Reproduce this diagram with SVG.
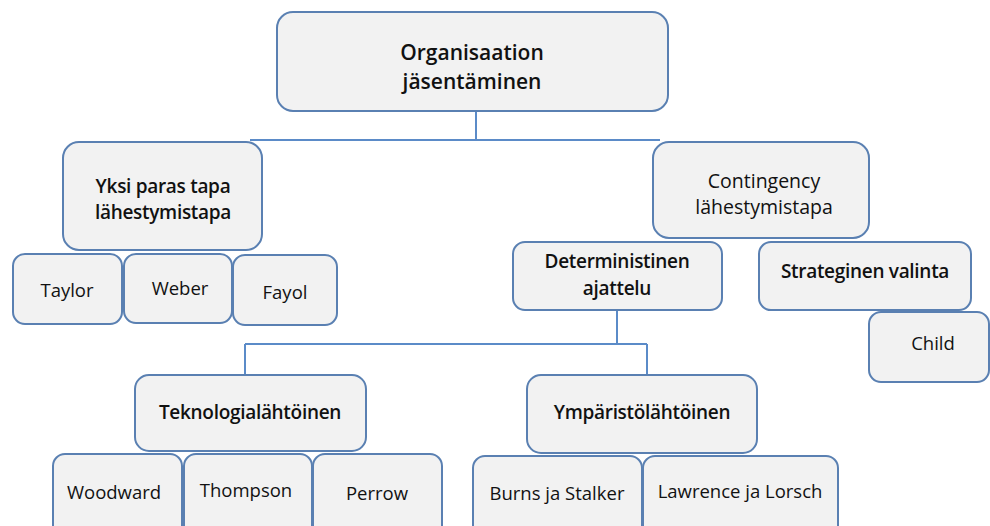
<svg xmlns="http://www.w3.org/2000/svg" width="990" height="526" viewBox="0 0 990 526">
<style>
.n{fill:#f2f2f2;stroke:#5a80b2;stroke-width:2}
.t{font-family:"Open Sans","Noto Sans",sans-serif;fill:#111;text-anchor:middle}
.b{font-weight:600;font-size:19px;letter-spacing:-0.3px}
.r{font-size:18.5px}
.c{fill:none;stroke:#5b8bc8;stroke-width:2}
</style>
<rect width="990" height="526" fill="#fff"/>
<g id="connectors">
<path class="c" d="M476 111V140M250 140H660"/>
<path class="c" d="M617 310V344M245 344H647M245 344V375M647 344V375"/>
</g>
<g id="root"><rect class="n" x="277" y="12" width="391" height="99" rx="16"/><text class="t" x="472" y="60" font-size="21" font-weight="600">Organisaation</text><text class="t" x="472" y="89" font-size="21" font-weight="600">jäsentäminen</text></g>
<g id="yksi"><rect class="n" x="63" y="142" width="199" height="108" rx="16"/><text class="t b" x="163" y="193">Yksi paras tapa</text><text class="t b" x="163" y="219">lähestymistapa</text></g>
<g id="taylor"><rect class="n" x="13" y="254" width="109" height="70" rx="12"/><text class="t r" x="67" y="297">Taylor</text></g>
<g id="weber"><rect class="n" x="124" y="254" width="108" height="69" rx="12"/><text class="t r" x="180" y="295">Weber</text></g>
<g id="fayol"><rect class="n" x="233" y="255" width="104" height="70" rx="12"/><text class="t r" x="285" y="299">Fayol</text></g>
<g id="contingency"><rect class="n" x="653" y="142" width="216" height="96" rx="16"/><text class="t" x="764" y="188" font-size="19.5" font-weight="500">Contingency</text><text class="t" x="764" y="214" font-size="19.5" font-weight="500">lähestymistapa</text></g>
<g id="deterministinen"><rect class="n" x="513" y="242" width="209" height="68" rx="12"/><text class="t b" x="617" y="268">Deterministinen</text><text class="t b" x="617" y="295">ajattelu</text></g>
<g id="strateginen"><rect class="n" x="759" y="242" width="212" height="68" rx="12"/><text class="t b" x="865" y="278">Strateginen valinta</text></g>
<g id="child"><rect class="n" x="869" y="312" width="120" height="70" rx="12"/><text class="t r" x="933" y="350">Child</text></g>
<g id="teknologia"><rect class="n" x="135" y="375" width="231" height="76" rx="14"/><text class="t b" x="250" y="419">Teknologialähtöinen</text></g>
<g id="woodward"><rect class="n" x="53" y="454" width="129" height="85" rx="12"/><text class="t r" x="114" y="499">Woodward</text></g>
<g id="thompson"><rect class="n" x="184" y="454" width="128" height="85" rx="12"/><text class="t r" x="246" y="497">Thompson</text></g>
<g id="perrow"><rect class="n" x="313" y="454" width="129" height="85" rx="12"/><text class="t r" x="377" y="500">Perrow</text></g>
<g id="ymparisto"><rect class="n" x="527" y="375" width="230" height="78" rx="14"/><text class="t b" x="642" y="419">Ympäristölähtöinen</text></g>
<g id="burns"><rect class="n" x="473" y="456" width="169" height="85" rx="12"/><text class="t r" x="557" y="500">Burns ja Stalker</text></g>
<g id="lawrence"><rect class="n" x="643" y="456" width="195" height="85" rx="12"/><text class="t r" x="740" y="498">Lawrence ja Lorsch</text></g>
</svg>
